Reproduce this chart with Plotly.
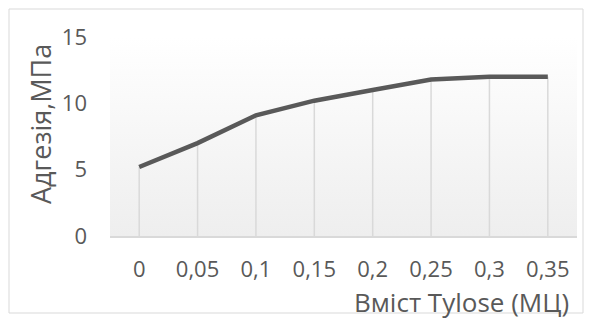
import plotly.graph_objects as go

# Tylose (MC) content and measured adhesion
categories = ["0", "0,05", "0,1", "0,15", "0,2", "0,25", "0,3", "0,35"]
adhesion = [5.2, 7.0, 9.1, 10.2, 11.0, 11.8, 12.0, 12.0]
y_ticks = [0, 5, 10, 15]

x_pos = list(range(len(categories)))
x_range = [-0.5, len(categories) - 0.5]
y_range = [0, 15]

FONT = "Open Sans"
TXT = "#595959"
TICK_FONT = dict(family=FONT, color=TXT, size=22)

fig = go.Figure()

# plot-area background: soft vertical gradient
fig.add_trace(go.Scatter(
    x=x_range, y=[y_range[1], y_range[1]],
    mode="lines", line=dict(width=0),
    fill="tozeroy",
    fillgradient=dict(type="vertical",
                      colorscale=[[0, "#eeeeee"], [1, "#ffffff"]]),
    hoverinfo="skip", showlegend=False,
))

# drop lines from every point down to the axis
fig.add_trace(go.Scatter(
    x=x_pos, y=adhesion, mode="markers",
    marker=dict(size=1, opacity=0),
    error_y=dict(type="data", symmetric=False, array=[0] * len(adhesion),
                 arrayminus=adhesion, color="#d9d9d9", thickness=1.5, width=0),
    hoverinfo="skip", showlegend=False,
))

# adhesion curve
fig.add_trace(go.Scatter(
    x=x_pos, y=adhesion, mode="lines",
    line=dict(color="#595959", width=4.5),
    showlegend=False,
))

fig.update_layout(
    width=592, height=320,
    margin=dict(l=110, r=15, t=37, b=84),
    paper_bgcolor="white", plot_bgcolor="white",
    font=dict(family=FONT, color=TXT, size=22),
    xaxis=dict(range=x_range, tickmode="array", tickvals=x_pos,
               ticktext=categories, showgrid=False, zeroline=False,
               showline=True, linecolor="#d9d9d9", linewidth=1.5,
               ticks="", ticklabelstandoff=13, tickfont=TICK_FONT,
               fixedrange=True),
    yaxis=dict(range=y_range, tickmode="array", tickvals=y_ticks,
               showgrid=False, zeroline=False, showline=False,
               ticks="", ticklabelstandoff=22, tickfont=TICK_FONT,
               fixedrange=True),
    shapes=[dict(type="rect", xref="paper", yref="paper",
                 x0=-101 / 467, x1=1 + 6 / 467, y0=-77 / 199, y1=1 + 28 / 199,
                 line=dict(color="#d9d9d9", width=1), fillcolor="rgba(0,0,0,0)",
                 layer="below")],
    annotations=[
        dict(text="Вміст Tylose (МЦ)", xref="paper", yref="paper",
             x=1 - 6 / 467, y=-46 / 199, xanchor="right", yanchor="top",
             showarrow=False, font=dict(size=26, color=TXT, family=FONT)),
        dict(text="Адгезія,МПа", xref="paper", yref="paper",
             x=-70 / 467, y=(236 - 124) / 199, xanchor="center", yanchor="middle",
             textangle=-90, showarrow=False,
             font=dict(size=27, color=TXT, family=FONT)),
    ],
)

fig.write_html("out.html")
